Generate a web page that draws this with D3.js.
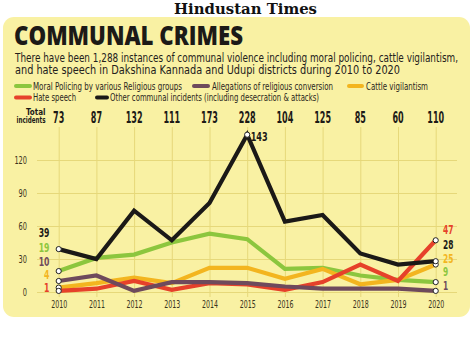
<!DOCTYPE html>
<html lang="en">
<head>
<meta charset="utf-8">
<title>Communal Crimes</title>
<script src="https://d3js.org/d3.v7.min.js"></script>
<style>
  body { margin: 0; background: #fff; }
  svg text { font-family: "Liberation Sans Narrow", "DejaVu Sans Condensed", "Roboto", sans-serif; }
  .axis text { font-size: 10px; fill: #3a3420; }
  .axis .domain { display: none; }
  .axis line { stroke: #e6d87a; stroke-width: 1; }
</style>
</head>
<body>
<script>
// data
const years = [2010, 2011, 2012, 2013, 2014, 2015, 2016, 2017, 2018, 2019, 2020];
const totals = [73, 87, 132, 111, 173, 228, 104, 125, 85, 60, 110];
const moralPolicing = [19, 31, 34, 45, 53, 48, 21, 22, 15, 11, 9];
const conversion = [10, 15, 1, 9, 9, 8, 5, 3, 3, 3, 1];
const cattle = [4, 8, 13, 8, 22, 22, 12, 21, 7, 11, 25];
const hateSpeech = [1, 3, 10, 2, 8, 7, 2, 9, 25, 10, 47];
const otherIncidents = [39, 30, 74, 47, 81, 143, 64, 70, 35, 25, 28];
const yTicks = [0, 30, 60, 90, 120];

const series = [
  { name: "Moral Policing by various Religious groups", values: moralPolicing, color: "#8cc63e" },
  { name: "Cattle vigilantism", values: cattle, color: "#f3b51f" },
  { name: "Hate speech", values: hateSpeech, color: "#e6412a" },
  { name: "Allegations of religious conversion", values: conversion, color: "#6e4a5c" },
  { name: "Other communal incidents (including desecration & attacks)", values: otherIncidents, color: "#1b1917" }
];

const W = 474, H = 353;
const svg = d3.select("body").append("svg").attr("width", W).attr("height", H);

// masthead
svg.append("text")
  .attr("x", 174).attr("y", 14)
  .attr("textLength", 143).attr("lengthAdjust", "spacingAndGlyphs")
  .style("font-family", "'DejaVu Serif', serif")
  .style("font-weight", "bold").style("font-size", "15px")
  .attr("fill", "#111")
  .text("Hindustan Times");

// panel
svg.append("rect")
  .attr("x", 3).attr("y", 17).attr("width", 467).attr("height", 300)
  .attr("rx", 11).attr("fill", "#f9f1a3");

// title
svg.append("text")
  .attr("x", 14).attr("y", 45)
  .attr("textLength", 229).attr("lengthAdjust", "spacingAndGlyphs")
  .style("font-family", "'Open Sans', 'DejaVu Sans', sans-serif")
  .style("font-weight", "800").style("font-size", "27px")
  .attr("fill", "#1c1a17")
  .text("COMMUNAL CRIMES");

// subtitle
const sub = [
  { t: "There have been 1,288 instances of communal violence including moral policing, cattle vigilantism,", y: 61.5, w: 443 },
  { t: "and hate speech in Dakshina Kannada and Udupi districts during 2010 to 2020", y: 74, w: 385 }
];
svg.selectAll(".sub").data(sub).enter().append("text")
  .attr("x", 15).attr("y", d => d.y)
  .attr("textLength", d => d.w).attr("lengthAdjust", "spacingAndGlyphs")
  .style("font-size", "12.5px").attr("fill", "#24211c")
  .text(d => d.t);

// legend
const legend = [
  { s: 0, x1: 16, x2: 30, tx: 33, tw: 149, y: 86 },
  { s: 3, x1: 194, x2: 208, tx: 212, tw: 121, y: 86 },
  { s: 1, x1: 349, x2: 362, tx: 366, tw: 62, y: 86 },
  { s: 2, x1: 16, x2: 30, tx: 33, tw: 43, y: 97.5 },
  { s: 4, x1: 97, x2: 107, tx: 110, tw: 209, y: 97.5 }
];
const lg = svg.selectAll(".lg").data(legend).enter().append("g");
lg.append("line")
  .attr("x1", d => d.x1).attr("x2", d => d.x2)
  .attr("y1", d => d.y).attr("y2", d => d.y)
  .attr("stroke", d => series[d.s].color).attr("stroke-width", 4)
  .attr("stroke-linecap", "round");
lg.append("text")
  .attr("x", d => d.tx).attr("y", d => d.y + 3.5)
  .attr("textLength", d => d.tw).attr("lengthAdjust", "spacingAndGlyphs")
  .style("font-size", "10px").attr("fill", "#2a2620")
  .text(d => series[d.s].name);

// scales
const x = d3.scalePoint().domain(years).range([58.7, 435.7]);
const y = d3.scaleLinear().domain([0, 120]).range([292, 160]);

// axes / grid
svg.append("g")
  .attr("class", "axis")
  .attr("transform", "translate(37,0)")
  .call(d3.axisLeft(y).tickValues(yTicks).tickSize(-420).tickPadding(10))
  .selectAll("text").attr("textLength", d => String(d).length * 4.2)
  .attr("lengthAdjust", "spacingAndGlyphs");

svg.append("g")
  .attr("class", "axis")
  .attr("transform", "translate(0,297)")
  .call(d3.axisBottom(x).tickSize(-170).tickPadding(4).tickFormat(d3.format("d")))
  .selectAll("text").attr("textLength", 16).attr("lengthAdjust", "spacingAndGlyphs");

// totals row
svg.append("text")
  .attr("x", 45.5).attr("y", 114.5)
  .attr("text-anchor", "end")
  .style("font-size", "8px").style("font-weight", "bold").attr("fill", "#1c1a17")
  .text("Total");
svg.append("text")
  .attr("x", 45.5).attr("y", 122.5)
  .attr("text-anchor", "end")
  .attr("textLength", 29).attr("lengthAdjust", "spacingAndGlyphs")
  .style("font-size", "8px").style("font-weight", "bold").attr("fill", "#1c1a17")
  .text("incidents");

svg.selectAll(".tot").data(totals).enter().append("text")
  .attr("x", (d, i) => x(years[i]) - String(d).length * 2.8)
  .attr("y", 123)
  .attr("textLength", d => String(d).length * 5.6)
  .attr("lengthAdjust", "spacingAndGlyphs")
  .style("font-size", "16px").style("font-weight", "bold").attr("fill", "#1c1a17")
  .text(d => d);

// lines
const line = d3.line().x((d, i) => x(years[i])).y(d => y(d));
svg.selectAll(".series").data(series).enter().append("path")
  .attr("d", d => line(d.values))
  .attr("fill", "none")
  .attr("stroke", d => d.color)
  .attr("stroke-width", 4.2)
  .attr("stroke-linejoin", "miter");

// end point markers
const pts = [];
series.forEach(s => {
  pts.push({ i: 0, v: s.values[0] });
  pts.push({ i: years.length - 1, v: s.values[years.length - 1] });
});
const peak = d3.maxIndex(otherIncidents);
pts.push({ i: peak, v: otherIncidents[peak] });
svg.selectAll(".pt").data(pts).enter().append("circle")
  .attr("cx", d => x(years[d.i])).attr("cy", d => y(d.v))
  .attr("r", 2.6).attr("fill", "#fff")
  .attr("stroke", "#222").attr("stroke-width", 1);

svg.append("text")
  .attr("x", x(years[peak]) + 3.5).attr("y", y(otherIncidents[peak]) + 6.5)
  .attr("textLength", 17).attr("lengthAdjust", "spacingAndGlyphs")
  .style("font-size", "13px").style("font-weight", "bold").attr("fill", "#1c1a17")
  .text(otherIncidents[peak]);

// left and right value labels
const leftOrder = [4, 0, 3, 1, 2];
const leftY = [237, 251.5, 265.5, 278.5, 291.5];
const rightOrder = [2, 4, 1, 0, 3];
const rightY = [234, 248.5, 263, 276, 290];

svg.selectAll(".lv").data(leftOrder).enter().append("text")
  .attr("x", 49.5).attr("y", (d, k) => leftY[k])
  .attr("text-anchor", "end")
  .attr("textLength", d => String(series[d].values[0]).length * 5.4)
  .attr("lengthAdjust", "spacingAndGlyphs")
  .style("font-size", "13px").style("font-weight", "bold")
  .attr("fill", d => series[d].color)
  .text(d => series[d].values[0]);

svg.selectAll(".rv").data(rightOrder).enter().append("text")
  .attr("x", 443).attr("y", (d, k) => rightY[k])
  .attr("textLength", d => String(series[d].values[years.length - 1]).length * 5.2)
  .attr("lengthAdjust", "spacingAndGlyphs")
  .style("font-size", "13px").style("font-weight", "bold")
  .attr("fill", d => series[d].color)
  .text(d => series[d].values[years.length - 1]);
</script>
</body>
</html>
